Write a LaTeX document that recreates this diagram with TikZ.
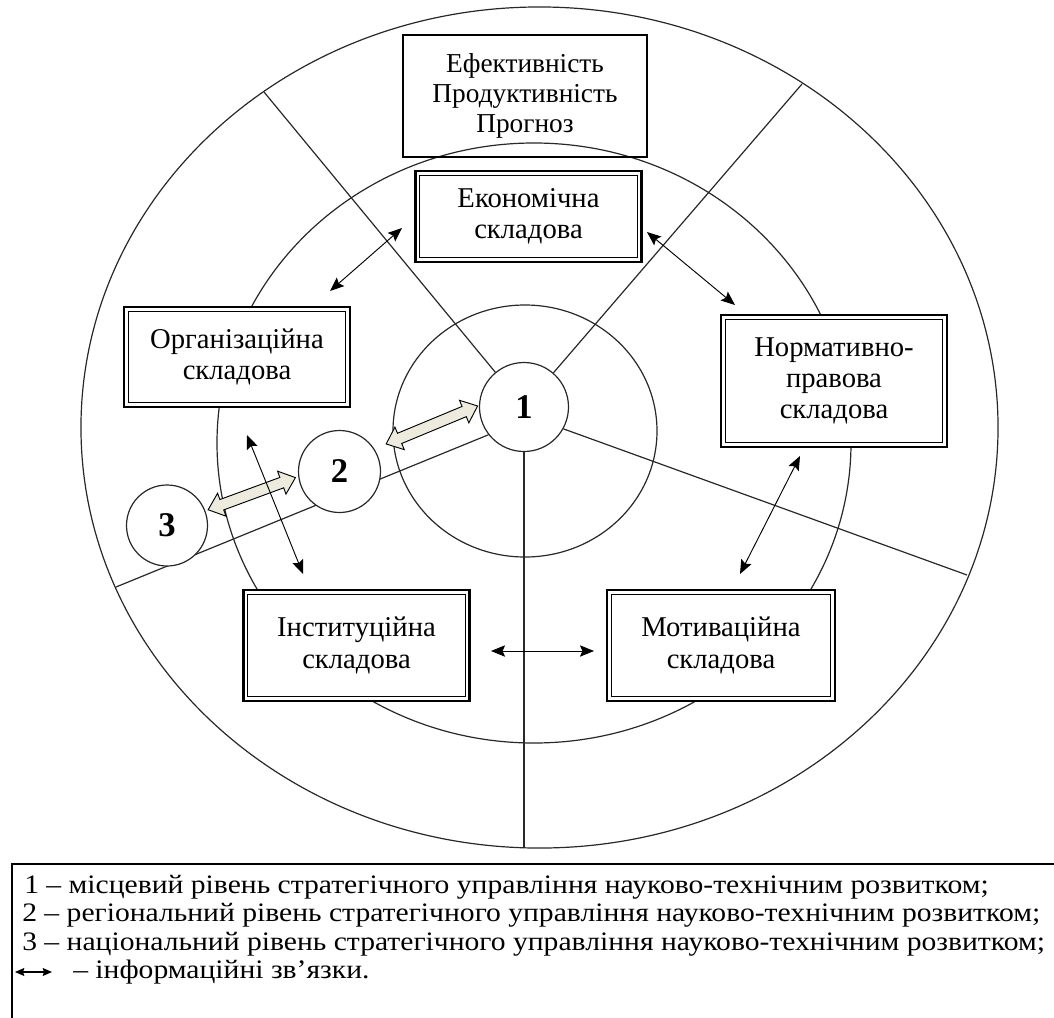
\documentclass[tikz,border=0pt]{standalone}
\usepackage{fontspec}
\usepackage{graphicx}
\setmainfont{Liberation Serif}
\usetikzlibrary{shapes.arrows,arrows.meta,backgrounds}
\definecolor{arrowfill}{RGB}{236,235,222}
\definecolor{ringline}{RGB}{40,40,40}
\newsavebox\legbox
\newlength\leglen
\newcommand\legfont{\fontsize{20}{23}\selectfont}
\begin{document}
% condensed legend lettering: common horizontal factor
\sbox\legbox{\legfont 2 – регіональний рівень стратегічного управління науково-технічним розвитком;}%
\setlength\leglen{\wd\legbox}%
\pgfmathsetmacro\legscale{763.5pt/\leglen}%
\begin{tikzpicture}[x=0.75pt,y=-0.75pt,
  ring/.style={draw=ringline, line width=0.9pt},
  spoke/.style={draw=ringline, line width=0.9pt},
  comp/.style={draw, fill=white, line width=1.8pt, align=center, inner sep=0pt,
     minimum width=169.5pt, font=\fontsize{21.5}{23.5}\selectfont},
  infobox/.style={draw, line width=0.8pt, align=center, inner sep=0pt,
     font=\fontsize{20.5}{22.5}\selectfont},
  level/.style={circle, draw=ringline, line width=0.9pt, fill=white, inner sep=0pt,
     font=\fontsize{26}{26}\selectfont\bfseries},
  flow/.style={double arrow, draw=black, line width=0.7pt, fill=arrowfill,
     inner xsep=0pt, inner ysep=3.8pt, double arrow head extend=5pt,
     double arrow tip angle=80},
  link/.style={{Stealth[length=10.5pt,width=8.5pt,inset=1.8pt]}-{Stealth[length=10.5pt,width=8.5pt,inset=1.8pt]},
     line width=0.7pt},
  leglink/.style={{Stealth[length=7pt,width=6pt,inset=1pt]}-{Stealth[length=7pt,width=6pt,inset=1pt]},
     line width=0.9pt},
  legline/.style={anchor=base west, inner sep=0pt, font=\legfont}
]
\useasboundingbox (0,0) rectangle (1054,1018);
\clip (0,0) rectangle (1054,1018);

% levels of management
\node[level, minimum size=66.75pt] (c1) at (524,407) {1};
\node[level, minimum size=61.5pt] (c2) at (339.5,471.5) {2};
\node[level, minimum size=60.75pt] (c3) at (167,525.5) {3};

% rings and sector boundaries
\coordinate (eTL) at (264,92);
\coordinate (eTR) at (802,84);
\coordinate (eLL) at (116,587);
\coordinate (eLR) at (967,575);
\coordinate (eB) at (524,848);
\begin{scope}[on background layer]
  \draw[ring] (539.5,427.5) ellipse [x radius=343.9pt, y radius=315.4pt];
  \draw[ring] (534,443) ellipse [x radius=237.75pt, y radius=225pt];
  \draw[ring] (525,431) ellipse [x radius=99pt, y radius=94.5pt];
  \draw[spoke] (c1) -- (eTL);
  \draw[spoke] (c1) -- (eTR);
  \draw[spoke] (c1.218) -- (eLL);
  \draw[spoke] (c1.331) -- (eLR);
  \draw[spoke] (c1.south) -- (eB);
\end{scope}

% result indicators
\node[infobox, minimum width=183pt, minimum height=91.5pt] (eff) at (525,96)
  {Ефективність\\Продуктивність\\Прогноз};

% components
\node[comp, minimum height=68.25pt] (eco) at (528.5,216.5) {Економічна\\складова};
\node[comp, minimum height=75pt] (org) at (237,357) {Організаційна\\складова};
\node[comp, minimum height=99pt] (norm) at (834,381) {Нормативно-\\правова\\складова};
\node[comp, minimum height=83.25pt] (inst) at (356.5,645.5) {Інституційна\\складова};
\node[comp, minimum height=83.25pt, minimum width=171pt] (mot) at (721,645.5) {Мотиваційна\\складова};
\foreach \n in {eco,org,norm,inst,mot}
  \draw[line width=0.7pt] ([shift={(4pt,-4pt)}]\n.north west) rectangle ([shift={(-4pt,4pt)}]\n.south east);

% flows between levels
\path (c3.21) -- (c2.187) node[flow, sloped, midway, minimum height=69.75pt] (f32) {};
\path (c2.33) -- (c1.178) node[flow, sloped, pos=0.55, minimum height=74.25pt] (f21) {};

% information links between components
\coordinate (a1s) at (330,291); \coordinate (a1e) at (402,228);
\coordinate (a2s) at (647,232); \coordinate (a2e) at (735,305);
\coordinate (a3s) at (247,435); \coordinate (a3e) at (303,574);
\coordinate (a4s) at (800,456); \coordinate (a4e) at (740,574);
\coordinate (a5s) at (491,651); \coordinate (a5e) at (594,651);
\draw[link] (a1s) -- (a1e);
\draw[link] (a2s) -- (a2e);
\draw[link] (a3s) -- (a3e);
\draw[link] (a4s) -- (a4e);
\draw[link] (a5s) -- (a5e);

% legend
\draw[line width=1.1pt] (12,864) rectangle (1080,1040);
\node[legline] (leg1) at (24,893) {\scalebox{\legscale}[1]{1 – місцевий рівень стратегічного управління науково-технічним розвитком;}};
\node[legline] (leg2) at (22,921) {\scalebox{\legscale}[1]{2 – регіональний рівень стратегічного управління науково-технічним розвитком;}};
\node[legline] (leg3) at (22,950) {\scalebox{\legscale}[1]{3 – національний рівень стратегічного управління науково-технічним розвитком;}};
\coordinate (ls) at (15,972); \coordinate (le) at (52,972);
\draw[leglink] (ls) -- (le);
\node[legline] (leg4) at (73,978) {\scalebox{\legscale}[1]{– інформаційні зв’язки.}};
\end{tikzpicture}
\end{document}
